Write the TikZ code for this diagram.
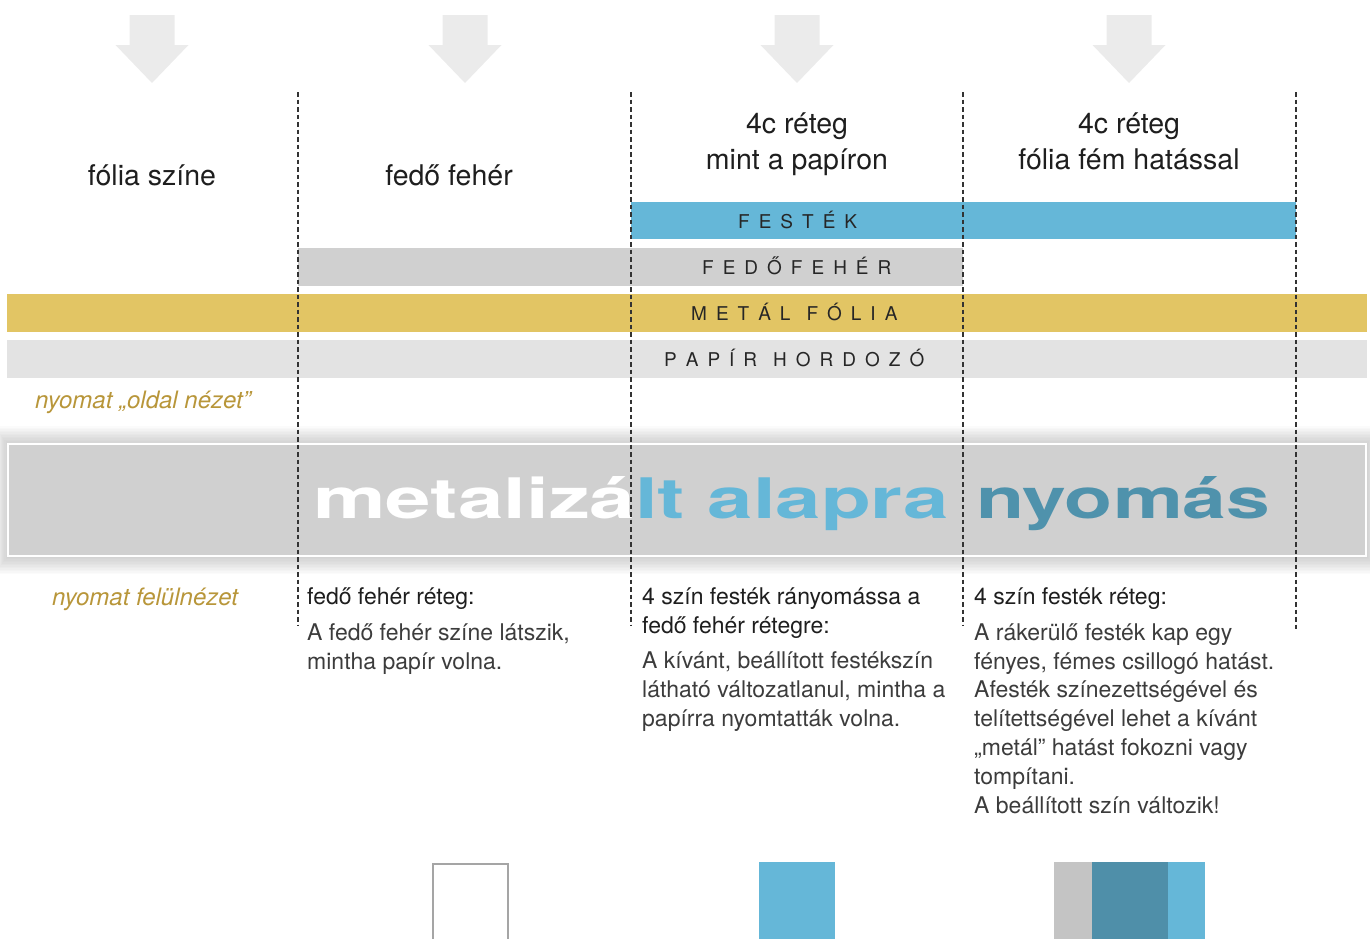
\documentclass[tikz,border=0pt]{standalone}
\usepackage{fontspec}
\setmainfont{TeX Gyre Heros}
\usepackage{graphicx}
\definecolor{inkblue}{HTML}{65B7D8}
\definecolor{darkblue}{HTML}{4F92AC}
\definecolor{foilgold}{HTML}{E2C564}
\definecolor{papergray}{HTML}{E3E3E3}
\definecolor{whitegray}{HTML}{D0D0D0}
\definecolor{arrowgray}{HTML}{EBEBEB}
\definecolor{goldtext}{HTML}{B8963A}
\definecolor{bodytext}{HTML}{3C3C3C}
\definecolor{headtext}{HTML}{1E1E1E}
\definecolor{swgray}{HTML}{C4C4C4}
\definecolor{swdark}{HTML}{4F8FA9}
\definecolor{boxborder}{HTML}{A5A5A5}
\def\trk{9pt}
\def\spacedloop#1{\ifx\relax#1\else#1\kern\trk\expandafter\spacedloop\fi}
\newcommand\spaced[1]{\spacedloop#1\relax}
\tikzset{
  bigarrow/.pic={\fill[arrowgray] (-22.5,0) -- (22.5,0) -- (22.5,30) -- (36.5,30) -- (0,68) -- (-36.5,30) -- (-22.5,30) -- cycle;},
  layerlabel/.style={anchor=base west, inner sep=0pt, text=black!85, font=\fontsize{19}{22}\selectfont},
  colhead/.style={anchor=base, inner sep=0pt, align=center, text=headtext, font=\fontsize{28.5}{36}\selectfont},
  goldlabel/.style={anchor=base west, inner sep=0pt, text=goldtext, font=\itshape\fontsize{24}{28}\selectfont},
  blockhead/.style={anchor=base west, inner sep=0pt, align=left, text=headtext, font=\fontsize{23}{28.8}\selectfont},
  blockbody/.style={anchor=base west, inner sep=0pt, align=left, text=bodytext, font=\fontsize{23}{28.8}\selectfont},
  divider/.style={dash pattern=on 4.5pt off 3pt, line width=1.2pt, black!80},
  titlepart/.style={anchor=base west, inner sep=0pt},
}
\begin{document}
\begin{tikzpicture}[x=1pt,y=-1pt]
\useasboundingbox (0,0) rectangle (1370,938);
% arrows
\pic at (152,15) {bigarrow};
\pic at (465,15) {bigarrow};
\pic at (797,15) {bigarrow};
\pic at (1129,15) {bigarrow};
% column headers (base = last line)
\node[colhead] (h1) at (152,185) {fólia színe};
\node[colhead] (h2) at (449,185) {fedő fehér};
\node[colhead] (h3) at (797,169) {4c réteg\\mint a papíron};
\node[colhead] (h4) at (1129,169) {4c réteg\\fólia fém hatással};
% layers
\fill[inkblue] (631,202) rectangle (1296,239);
\fill[whitegray] (298,248) rectangle (963,286);
\fill[foilgold] (7,294) rectangle (1367,332);
\fill[papergray] (7,340) rectangle (1367,378);
\node[layerlabel] (l1) at (738,228) {\spaced{FESTÉK}};
\node[layerlabel] (l2) at (702,274) {\spaced{FEDŐFEHÉR}};
\node[layerlabel] (l3) at (691,320) {\spaced{METÁL}\kern7pt\spaced{FÓLIA}};
\node[layerlabel] (l4) at (664,366) {\spaced{PAPÍR}\kern7pt\spaced{HORDOZÓ}};
\node[goldlabel] (g1) at (35,408) {nyomat „oldal nézet”};
% title band with soft shadow
\foreach \i in {1,...,12}
  \fill[black, opacity=0.016] (8-\i*1.2, 444-\i*1.5) rectangle (1367+\i*1.2, 556+\i*1.5);
\fill[whitegray, draw=white, line width=2.5pt] (8,444) rectangle (1366,556);
\node[titlepart] (title1) at (313,518)
  {\resizebox{635pt}{42pt}{\bfseries\vphantom{lá}\color{white}metalizá\color{inkblue}lt alapra}};
\node[titlepart] (title2) at (976,518)
  {\resizebox{294pt}{42pt}{\bfseries\vphantom{lá}\color{darkblue}nyomás}};
% dividers
\coordinate (d1t) at (298,92); \coordinate (d1b) at (298,626);
\coordinate (d2t) at (631,92); \coordinate (d2b) at (631,626);
\coordinate (d3t) at (963,92); \coordinate (d3b) at (963,626);
\coordinate (d4t) at (1296,92); \coordinate (d4b) at (1296,630);
\draw[divider] (d1t) -- (d1b);
\draw[divider] (d2t) -- (d2b);
\draw[divider] (d3t) -- (d3b);
\draw[divider] (d4t) -- (d4b);
% descriptions (base = last line)
\node[goldlabel] (g2) at (52,605) {nyomat felülnézet};
\node[blockhead] (b2h) at (307,604) {fedő fehér réteg:};
\node[blockbody] (b2) at (307,669) {A fedő fehér színe látszik,\\mintha papír volna.};
\node[blockhead] (b3h) at (642,633) {4 szín festék rányomássa a\\fedő fehér rétegre:};
\node[blockbody] (b3) at (642,726) {A kívánt, beállított festékszín\\látható változatlanul, mintha a\\papírra nyomtatták volna.};
\node[blockhead] (b4h) at (974,604) {4 szín festék réteg:};
\node[blockbody] (b4) at (974,813) {A rákerülő festék kap egy\\fényes, fémes csillogó hatást.\\Afesték színezettségével és\\telítettségével lehet a kívánt\\„metál” hatást fokozni vagy\\tompítani.\\A beállított szín változik!};
% swatches
\filldraw[fill=white, draw=boxborder, line width=2pt] (433,864) rectangle (508,945);
\fill[inkblue] (759,862) rectangle (835,945);
\fill[swgray] (1054,862) rectangle (1092,945);
\fill[swdark] (1092,862) rectangle (1168,945);
\fill[inkblue] (1168,862) rectangle (1205,945);
\end{tikzpicture}
\end{document}
